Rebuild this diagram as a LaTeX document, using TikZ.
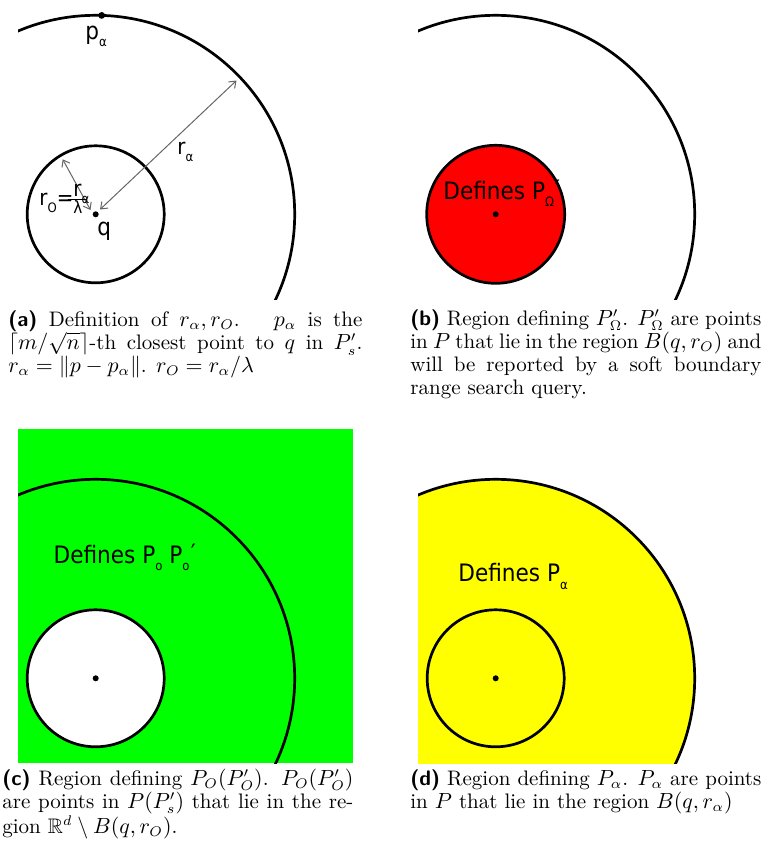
\documentclass[tikz,border=0pt]{standalone}
\usepackage{amsmath,amssymb}
\usepackage{fontspec}
\newfontfamily\lblfont{DejaVu Sans}[FakeStretch=0.9]
\usetikzlibrary{arrows.meta}
\definecolor{pgreen}{RGB}{0,255,0}
\definecolor{pred}{RGB}{255,0,0}
\definecolor{pyellow}{RGB}{255,255,0}
\newcommand\lsub[1]{\raisebox{-0.32em}{\fontsize{6.5}{6.5}\selectfont #1}}
\newcommand\lsubp[1]{\rlap{\lsub{#1}}\hphantom{\lsub{#1}}\kern0.05em\raisebox{0.06em}{′}}
\newcommand\capfont{\fontsize{10.5}{11.5}\selectfont}
\begin{document}
\begin{tikzpicture}[x=0.5pt,y=-0.5pt,
  ring/.style={line width=1.35pt},
  qdot/.style={circle,fill=black,inner sep=0pt,minimum size=3pt},
  lbl/.style={font=\lblfont\fontsize{12}{14}\selectfont,inner sep=0pt,anchor=base west},
  lbls/.style={font=\lblfont\fontsize{11}{13}\selectfont,inner sep=0pt,anchor=base west},
  captxt/.style={inner sep=0pt,anchor=base west},
  dim/.style={draw=black!60,line width=0.5pt,{Straight Barb[length=3pt,width=4.5pt]}-{Straight Barb[length=3pt,width=4.5pt]}}]
\useasboundingbox (0,0) rectangle (764,843);

% ---------- panel (a)
\coordinate (qa) at (95.7,214.3);
\begin{scope}
  \clip (18,0) rectangle (353,299.3);
  \draw[ring] (qa) circle[radius=99.5pt];
\end{scope}
\draw[ring] (qa) circle[radius=34.25pt];
\node[qdot] (qadot) at (qa) {};
\node[qdot,minimum size=3.4pt] (pa) at (101.7,15.4) {};
\node[lbl] (plab) at (85,39) {p\lsub{α}};
\node[lbl] (qlab) at (97,235.5) {q};
\coordinate (ra1) at (100,209.5);
\coordinate (ra2) at (236.5,80.5);
\draw[dim] (ra1) -- (ra2);
\coordinate (ro1) at (90.5,210);
\coordinate (ro2) at (62.7,159.3);
\draw[dim] (ro1) -- (ro2);
\node[lbls] (ralab) at (177,154) {r\lsub{α}};
\node[lbls] (rolab) at (39,205) {r\lsub{O}=};
\node[lbls] (fnum) at (73,196.7) {r\lsub{α}};
\coordinate (fb1) at (68,199.3);
\coordinate (fb2) at (87,199.3);
\draw[line width=0.6pt] (fb1) -- (fb2);
\node[lbl,font=\lblfont\fontsize{8.5}{9}\selectfont] (flam) at (73,213.3) {λ};

% ---------- panel (b)
\coordinate (qb) at (495.7,214.3);
\begin{scope}
  \clip (418,0) rectangle (753,299.3);
  \draw[ring] (qb) circle[radius=99.5pt];
\end{scope}
\draw[ring,fill=pred] (qb) circle[radius=34.5pt];
\node[qdot] (qbdot) at (qb) {};
\node[lbl] (blab) at (443,199.3) {Defines P\lsubp{Ω}};

% ---------- panel (c)
\coordinate (qc) at (95.7,678.3);
\fill[pgreen] (18,429) rectangle (353,763.3);
\begin{scope}
  \clip (18,429) rectangle (353,763.3);
  \draw[ring] (qc) circle[radius=99.5pt];
\end{scope}
\draw[ring,fill=white] (qc) circle[radius=34.25pt];
\node[qdot] (qcdot) at (qc) {};
\node[lbl] (clab) at (53.3,563.3) {Defines P\lsub{o} P\lsubp{o}};

% ---------- panel (d)
\coordinate (qd) at (495.7,678.3);
\begin{scope}
  \clip (418,429) rectangle (753,763.3);
  \fill[pyellow] (qd) circle[radius=99.5pt];
  \draw[ring] (qd) circle[radius=99.5pt];
\end{scope}
\draw[ring] (qd) circle[radius=34.25pt];
\node[qdot] (qddot) at (qd) {};
\node[lbl] (dlab) at (458,581.7) {Defines P\lsub{α}};

% ---------- captions
\node[captxt] (capa) at (8,326.7) {\parbox[t]{177pt}{\capfont
\textsf{\textbf{(a)}} Definition of $r_\alpha, r_O$. \ $p_\alpha$ is the\linebreak
$\left\lceil m/\sqrt{n}\right\rceil$-th closest point to $q$ in $P'_s$.\linebreak
$r_\alpha = \|p - p_\alpha\|$. $r_O = r_\alpha/\lambda$}};
\node[captxt] (capb) at (410,325) {\parbox[t]{175.5pt}{\capfont
\textsf{\textbf{(b)}} Region defining $P'_\Omega$. $P'_\Omega$ are points\linebreak
in $P$ that lie in the region $B(q, r_O)$ and\linebreak
will be reported by a soft boundary\linebreak
range search query.}};
\node[captxt] (capc) at (2,785) {\parbox[t]{175.5pt}{\capfont
\textsf{\textbf{(c)}} Region defining $P_O(P'_O)$. $P_O(P'_O)$\linebreak
are points in $P(P'_s)$ that lie in the re-\linebreak
gion $\mathbb{R}^d \setminus B(q, r_O)$.}};
\node[captxt] (capd) at (410,785) {\parbox[t]{175.5pt}{\capfont
\textsf{\textbf{(d)}} Region defining $P_\alpha$. $P_\alpha$ are points\linebreak
in $P$ that lie in the region $B(q, r_\alpha)$}};
\end{tikzpicture}
\end{document}
